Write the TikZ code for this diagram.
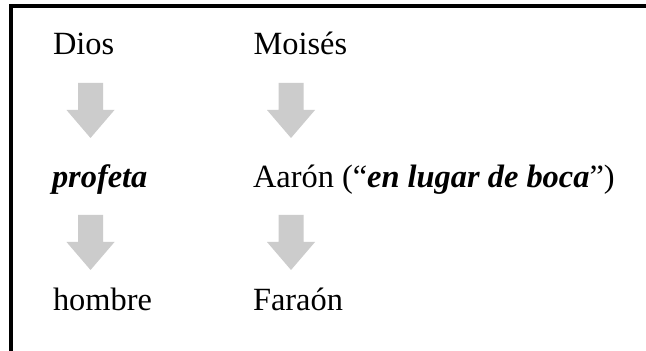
\documentclass[tikz,border=0pt]{standalone}
\usepackage{fontspec}
\setmainfont{Liberation Serif}
\begin{document}
\begin{tikzpicture}[x=0.5pt,y=-0.5pt,
  lbl/.style={anchor=base west,inner sep=0pt,outer sep=0pt,font=\fontsize{16.2}{19}\selectfont},
  arrowgray/.style={fill=black!20,draw=none}]
\useasboundingbox (0,0) rectangle (646,351);
\fill[white] (0,0) rectangle (646,351);
\draw[line width=1.75pt] (646,5.8) -- (11.2,5.8) -- (11.2,351);
% texts
\node[lbl] (dios) at (53,55) {Dios};
\node[lbl] (moises) at (253.5,55) {Moisés};
\node[lbl] (profeta) at (52,188) {\bfseries\itshape profeta};
\node[lbl] (aaron) at (253,188) {Aarón (“{\bfseries\itshape en lugar de boca}”)};
\node[lbl] (hombre) at (53,311) {hombre};
\node[lbl] (faraon) at (253,311) {Faraón};
% block arrows
\coordinate (a1) at (90.5,83);
\coordinate (a2) at (291,83);
\coordinate (a3) at (90.5,215);
\coordinate (a4) at (291,215);
\foreach \c in {a1,a2,a3,a4}{
  \fill[arrowgray] ([shift={(-12.5,0)}]\c) -- ([shift={(12.5,0)}]\c) -- ([shift={(12.5,27)}]\c)
    -- ([shift={(24,27)}]\c) -- ([shift={(0,55)}]\c) -- ([shift={(-24,27)}]\c)
    -- ([shift={(-12.5,27)}]\c) -- cycle;
}
\end{tikzpicture}
\end{document}
